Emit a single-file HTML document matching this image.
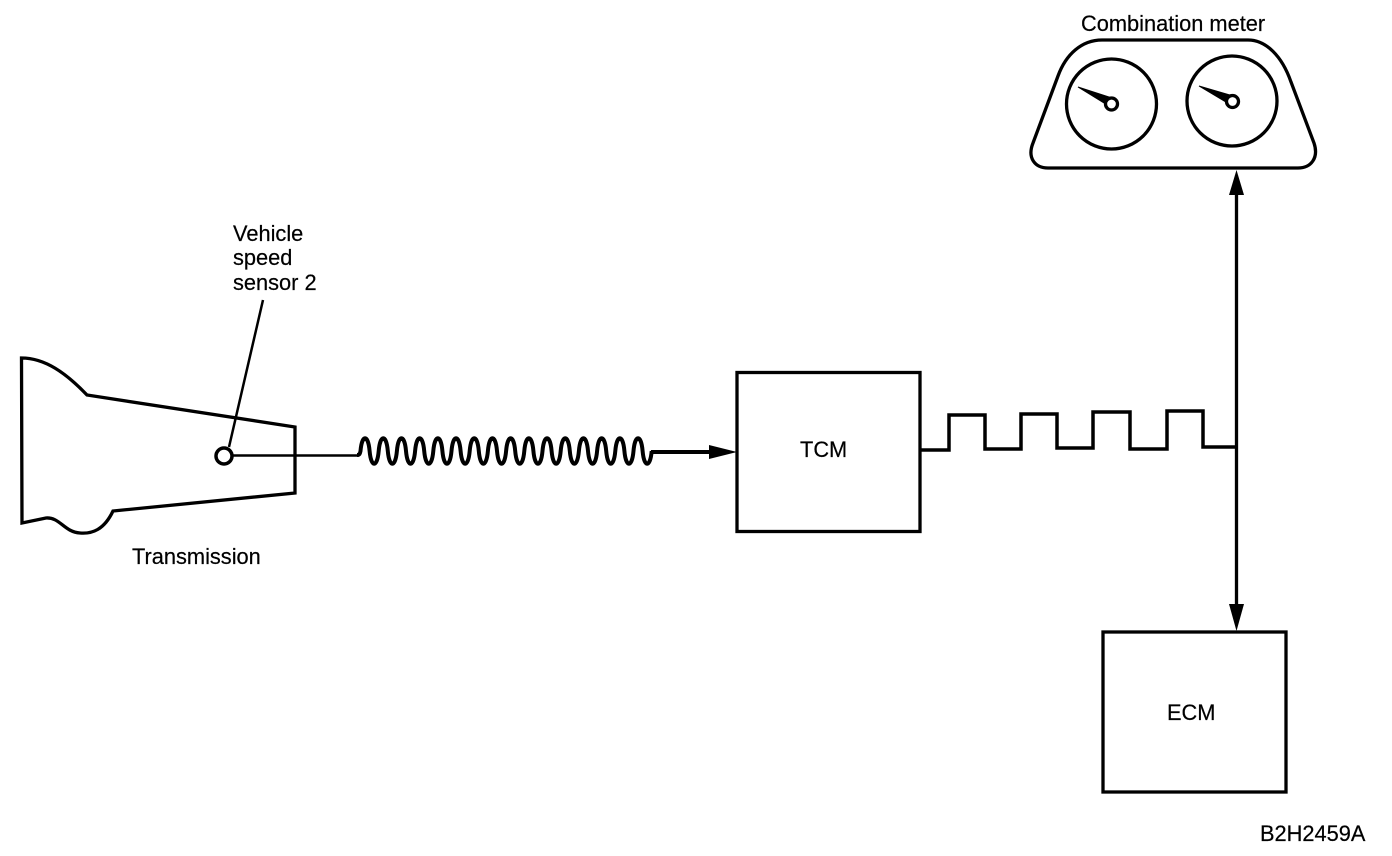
<!DOCTYPE html>
<html><head><meta charset="utf-8"><style>
html,body{margin:0;padding:0;background:#fff}
svg{display:block}
text{font-family:"Liberation Sans",sans-serif;font-size:21.8px;fill:#000;stroke:#000;stroke-width:0.2px}
</style></head><body>
<svg width="1392" height="856" viewBox="0 0 1392 856" xmlns="http://www.w3.org/2000/svg">
<g fill="none" stroke="#000" stroke-width="3.300">
<!-- Transmission -->
<path d="M21.500 358 C45 358 66 373 87 395 L295 427 V493 L113 511 C104 530 92 534 80 533 C64 532 60 517 46 518 L22 523 Z"/>
<circle cx="224" cy="456" r="8" stroke-width="3.500"/>
<path d="M263 300 L229 447" stroke-width="2.500"/>
<path d="M232 455.500 H359" stroke-width="2.500"/>
<!-- Wave -->
<path stroke-width="4" d="M357 455 C360 455 360 453 360.500 451 c1.500 -17 7.600 -17 9.100 0 c1.500 17 7.600 17 9.100 0 c1.500 -17 7.600 -17 9.100 0 c1.500 17 7.600 17 9.100 0 c1.500 -17 7.600 -17 9.100 0 c1.500 17 7.600 17 9.100 0 c1.500 -17 7.600 -17 9.100 0 c1.500 17 7.600 17 9.100 0 c1.500 -17 7.600 -17 9.100 0 c1.500 17 7.600 17 9.100 0 c1.500 -17 7.600 -17 9.100 0 c1.500 17 7.600 17 9.100 0 c1.500 -17 7.600 -17 9.100 0 c1.500 17 7.600 17 9.100 0 c1.500 -17 7.600 -17 9.100 0 c1.500 17 7.600 17 9.100 0 c1.500 -17 7.600 -17 9.100 0 c1.500 17 7.600 17 9.100 0 c1.500 -17 7.600 -17 9.100 0 c1.500 17 7.600 17 9.100 0 c1.500 -17 7.600 -17 9.100 0 c1.500 17 7.600 17 9.100 0 c1.500 -17 7.600 -17 9.100 0 c1.500 17 7.600 17 9.100 0 c1.500 -17 7.600 -17 9.100 0 c1.500 17 7.600 17 9.100 0 c1.500 -17 7.600 -17 9.100 0 c1.500 17 7.600 17 9.100 0 c1.500 -17 7.600 -17 9.100 0 c1.500 17 7.600 17 9.100 0 c1.500 -17 7.600 -17 9.100 0 c1.500 17 7.600 17 9.100 0"/>
<path d="M651 452 H712" stroke-width="4"/>
<!-- Boxes -->
<rect x="737" y="372.500" width="183" height="159"/>
<rect x="1103" y="632" width="183" height="160"/>
<!-- Square wave -->
<path stroke-width="3.500" d="M921 450 H949 V415 H985 V449 H1021 V414 H1057 V448 H1093 V412 H1130 V449 H1167 V411 H1203 V447 H1236"/>
<!-- Vertical -->
<path d="M1236.500 190 V608" stroke-width="3.300"/>
<!-- Combination meter -->
<path d="M1102 40 H1248 C1266 40 1282 56 1291 82 L1314 143 C1319 158 1311 168 1298 168 H1048 C1035 168 1027 158 1033 143 L1058 76 C1066 54 1082 40 1102 40 Z"/>
<circle cx="1111.500" cy="104" r="45"/>
<circle cx="1232" cy="101" r="45"/>
<circle cx="1111.500" cy="104" r="6"/>
<circle cx="1232.500" cy="101.500" r="6"/>
</g>
<!-- Needles & arrowheads -->
<path d="M1078 87 L1109 97 L1104 103 Z M1199 86 L1230 95 L1226 102 Z" fill="#000" stroke="#000" stroke-width="1"/>
<path d="M709 445 L737 452 L709 459 Z" fill="#000"/>
<path d="M1236.500 170 L1229 195 H1244 Z" fill="#000"/>
<path d="M1236.500 631 L1229 604 H1244 Z" fill="#000"/>
<!-- Labels -->
<text x="233" y="241">Vehicle</text>
<text x="233" y="265">speed</text>
<text x="233" y="290">sensor 2</text>
<text x="132" y="564">Transmission</text>
<text x="800" y="457">TCM</text>
<text x="1167" y="720">ECM</text>
<text x="1081" y="31">Combination meter</text>
<text x="1260" y="841">B2H2459A</text>
</svg>
</body></html>
